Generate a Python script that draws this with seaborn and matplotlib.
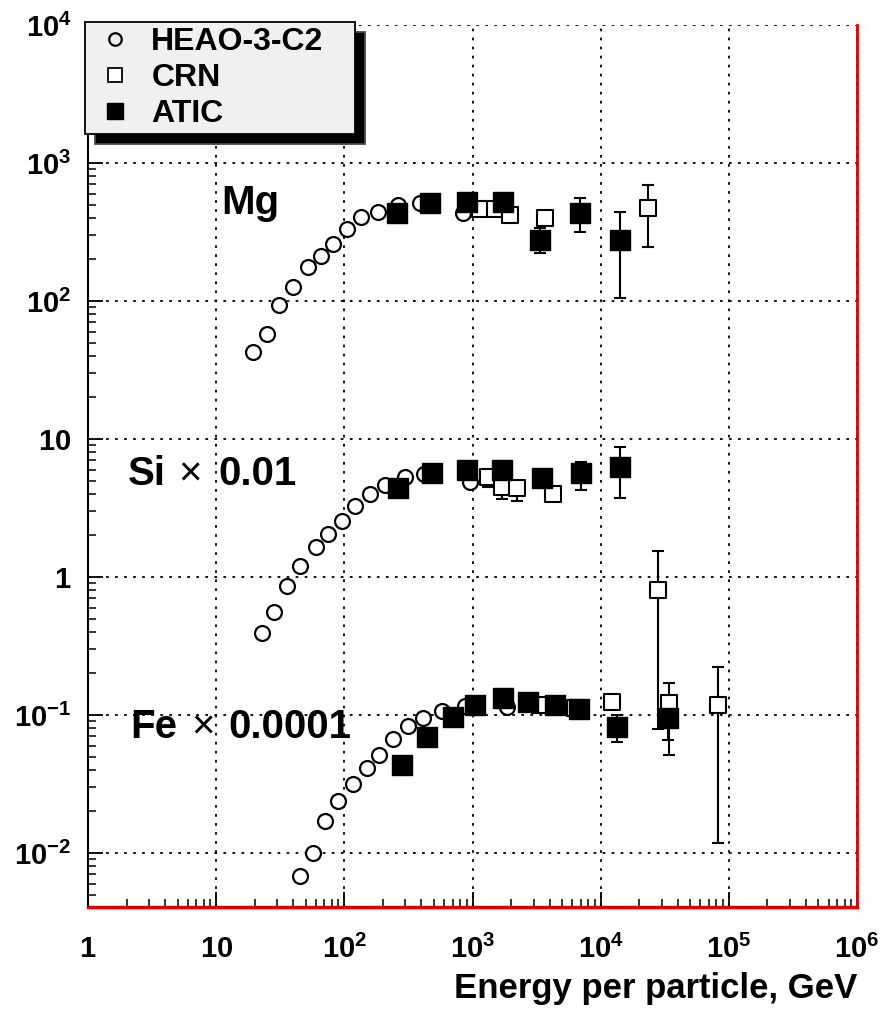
import numpy as np
import pandas as pd
import matplotlib
matplotlib.use("Agg")
import matplotlib.pyplot as plt
import seaborn as sns
from matplotlib import font_manager
from matplotlib.ticker import LogLocator, NullFormatter, FixedLocator, FixedFormatter
from matplotlib.lines import Line2D

# ---------------- data ----------------
heao_mg_E = [19.5, 24.8, 31, 39.5, 51.7, 65.7, 81.9, 104, 136, 184, 263, 389, 846]
heao_mg_F = [43, 58, 94, 127, 175, 212, 258, 333, 404, 444, 496, 510, 432]
heao_si_E = [22.6, 28.4, 35.5, 45.1, 60.0, 74.8, 95.2, 121, 158, 207, 297, 420, 955]
heao_si_F = [0.395, 0.555, 0.865, 1.20, 1.64, 2.05, 2.56, 3.29, 3.97, 4.64, 5.27, 5.6, 4.9]
heao_fe_E = [45.1, 57.2, 70.6, 89.6, 116, 149, 187, 241, 312, 413, 574, 873, 1850]
heao_fe_F = [0.00681, 0.01005, 0.01706, 0.0238, 0.0315, 0.0415, 0.0513, 0.0667,
             0.0832, 0.0946, 0.107, 0.116, 0.115]

crn_mg_E = [1142, 1496, 1958, 3672, 23480]
crn_mg_F = [462, 462, 420, 397, 470]
crn_mg_lo = [440, 440, 395, 375, 245]
crn_mg_hi = [485, 485, 445, 420, 693]
crn_si_E = [1325, 1687, 2208, 4266, 28100]
crn_si_F = [5.33, 4.51, 4.39, 3.99, 0.805]
crn_si_lo = [4.5, 3.7, 3.57, 3.8, 0.079]
crn_si_hi = [5.6, 4.7, 4.6, 4.1, 1.53]
crn_fe_E = [3357, 6300, 12160, 34000, 82600]
crn_fe_F = [0.118, 0.112, 0.125, 0.1215, 0.118]
crn_fe_lo = [0.105, 0.104, 0.112, 0.051, 0.0118]
crn_fe_hi = [0.130, 0.120, 0.140, 0.170, 0.224]

atic_mg_E = [256, 465, 899, 1738, 3357, 6886, 14120]
atic_mg_F = [436, 510, 525, 525, 277, 432, 277]
atic_mg_lo = [410, 485, 500, 500, 224, 318, 106]
atic_mg_hi = [460, 535, 550, 550, 340, 555, 439]
atic_si_E = [263, 480, 899, 1687, 3459, 7016, 14120]
atic_si_F = [4.39, 5.64, 5.96, 5.96, 5.19, 5.64, 6.3]
atic_si_lo = [4.2, 5.4, 5.7, 5.0, 4.9, 4.27, 3.72]
atic_si_hi = [4.6, 5.9, 6.2, 6.9, 5.5, 6.85, 8.7]
atic_fe_E = [280, 439, 700, 1050, 1738, 2722, 4395, 6790, 13460, 33600]
atic_fe_F = [0.0434, 0.0696, 0.0962, 0.118, 0.132, 0.125, 0.118, 0.110, 0.0823, 0.0946]
atic_fe_lo = [0.041, 0.066, 0.092, 0.113, 0.124, 0.112, 0.104, 0.102, 0.064, 0.066]
atic_fe_hi = [0.046, 0.073, 0.100, 0.123, 0.140, 0.135, 0.128, 0.118, 0.100, 0.133]

legend_labels = ["HEAO-3-C2", "CRN", "ATIC"]
x_tick_vals = [1, 10, 1e2, 1e3, 1e4, 1e5, 1e6]
x_tick_text = ["1", "10", "10^{2}", "10^{3}", "10^{4}", "10^{5}", "10^{6}"]
y_tick_vals = [1e-2, 1e-1, 1, 10, 1e2, 1e3, 1e4]
y_tick_text = ["10^{-2}", "10^{-1}", "1", "10", "10^{2}", "10^{3}", "10^{4}"]

# ---------------- style ----------------
sns.set_style("white")
names = {f.name for f in font_manager.fontManager.ttflist}
fam = "Liberation Sans" if "Liberation Sans" in names else "DejaVu Sans"
plt.rcParams["font.family"] = [fam, "DejaVu Sans"]
plt.rcParams["mathtext.fontset"] = "custom"
plt.rcParams["mathtext.rm"] = fam
plt.rcParams["mathtext.bf"] = fam + ":bold"
plt.rcParams["mathtext.it"] = fam + ":italic"
for k in ["text.color", "axes.labelcolor", "xtick.color", "ytick.color"]:
    plt.rcParams[k] = "black"

fig = plt.figure(figsize=(8.8, 10.09), dpi=100)
ax = fig.add_axes([88 / 880, 1 - 907 / 1009, (857 - 88) / 880, (907 - 25) / 1009])


def frame(E, F, exp):
    return pd.DataFrame({"E": E, "F": F, "exp": exp})


heao = pd.concat([frame(heao_mg_E, heao_mg_F, "HEAO"), frame(heao_si_E, heao_si_F, "HEAO"),
                  frame(heao_fe_E, heao_fe_F, "HEAO")])
crn_E = crn_mg_E + crn_si_E + crn_fe_E
crn_F = crn_mg_F + crn_si_F + crn_fe_F
crn_lo = crn_mg_lo + crn_si_lo + crn_fe_lo
crn_hi = crn_mg_hi + crn_si_hi + crn_fe_hi
atic_E = atic_mg_E + atic_si_E + atic_fe_E
atic_F = atic_mg_F + atic_si_F + atic_fe_F
atic_lo = atic_mg_lo + atic_si_lo + atic_fe_lo
atic_hi = atic_mg_hi + atic_si_hi + atic_fe_hi
crn = frame(crn_E, crn_F, "CRN")
atic = frame(atic_E, atic_F, "ATIC")

ax.set_xscale("log")
ax.set_yscale("log")

# error bars
for E, F, lo, hi in [(crn_E, crn_F, crn_lo, crn_hi), (atic_E, atic_F, atic_lo, atic_hi)]:
    F = np.array(F); lo = np.array(lo); hi = np.array(hi)
    ax.errorbar(E, F, yerr=[F - lo, hi - F], fmt="none", ecolor="black",
                elinewidth=1.5, capsize=4, capthick=1.5, zorder=3)

sns.scatterplot(data=heao, x="E", y="F", marker="o", s=115, color="white",
                edgecolor="black", linewidth=1.6, ax=ax, zorder=4, legend=False)
sns.scatterplot(data=crn, x="E", y="F", marker="s", s=140, color="white",
                edgecolor="black", linewidth=1.5, ax=ax, zorder=5, legend=False)
sns.scatterplot(data=atic, x="E", y="F", marker="s", s=190, color="black",
                edgecolor="black", linewidth=1.0, ax=ax, zorder=6, legend=False)

ax.set_xlim(1, 1e6)
ax.set_ylim(0.00406, 1e4)

# ticks
ax.xaxis.set_major_locator(FixedLocator(x_tick_vals))
ax.xaxis.set_major_formatter(FixedFormatter([r"$\mathbf{%s}$" % t for t in x_tick_text]))
ax.yaxis.set_major_locator(FixedLocator(y_tick_vals))
ax.yaxis.set_major_formatter(FixedFormatter([r"$\mathbf{%s}$" % t for t in y_tick_text]))
ax.xaxis.set_minor_locator(LogLocator(base=10, subs=np.arange(2, 10), numticks=100))
ax.yaxis.set_minor_locator(LogLocator(base=10, subs=np.arange(2, 10), numticks=100))
ax.xaxis.set_minor_formatter(NullFormatter())
ax.yaxis.set_minor_formatter(NullFormatter())
ax.tick_params(which="major", direction="in", length=11, width=1.3, labelsize=21,
               color="black", bottom=True, left=True, top=False, right=False)
ax.tick_params(which="minor", direction="in", length=6, width=1.1, color="black",
               bottom=True, left=True, top=False, right=False)
ax.tick_params(axis="x", which="major", pad=20)
ax.tick_params(axis="y", which="major", pad=12)

ax.grid(True, which="major", color="black", linestyle=(0, (1.5, 3.5)), linewidth=1.3)
ax.set_axisbelow(True)

ax.spines["top"].set_visible(False)
ax.spines["left"].set_color("black")
ax.spines["left"].set_linewidth(1.5)
ax.spines["bottom"].set_color("#dd0000")
ax.spines["bottom"].set_linewidth(2.5)
ax.spines["right"].set_color("#dd0000")
ax.spines["right"].set_linewidth(2.0)

ax.set_ylabel("")
ax.set_xlabel("Energy per particle, GeV", fontsize=25, fontweight="bold",
              loc="right", labelpad=6)

# element labels
tfs = 29
ax.text(11.0, 430, "Mg", fontsize=tfs, fontweight="bold", va="baseline", ha="left")
ax.text(2.06, 4.64, "Si", fontsize=tfs, fontweight="bold", va="baseline", ha="left")
ax.text(6.25, 4.64, "\u00d7", fontsize=tfs, fontweight="normal", va="baseline", ha="center")
ax.text(10.4, 4.64, "0.01", fontsize=tfs, fontweight="bold", va="baseline", ha="left")
ax.text(2.13, 0.0681, "Fe", fontsize=tfs, fontweight="bold", va="baseline", ha="left")
ax.text(7.82, 0.0681, "\u00d7", fontsize=tfs, fontweight="normal", va="baseline", ha="center")
ax.text(12.4, 0.0681, "0.0001", fontsize=tfs, fontweight="bold", va="baseline", ha="left")

# legend
handles = [
    Line2D([], [], marker="o", ls="none", markersize=9, markerfacecolor="none",
           markeredgecolor="black", markeredgewidth=1.6),
    Line2D([], [], marker="s", ls="none", markersize=10, markerfacecolor="white",
           markeredgecolor="black", markeredgewidth=1.3),
    Line2D([], [], marker="s", ls="none", markersize=12, markerfacecolor="black",
           markeredgecolor="black"),
]
leg = ax.legend(handles, legend_labels, loc="upper left",
                bbox_to_anchor=(-0.004, 0.0, 0.351, 1.003), mode="expand",
                frameon=True, fancybox=False, framealpha=1, facecolor="#f0f0f0",
                edgecolor="black", prop={"size": 23, "weight": "bold"},
                labelspacing=0.19, borderpad=0.15, handletextpad=0.37, handlelength=1.56,
                borderaxespad=0.0,
                shadow={"ox": 7, "oy": -7, "facecolor": "black", "alpha": 1.0})
leg.get_frame().set_linewidth(1.3)
leg.set_zorder(10)

fig.savefig("out.png", dpi=100, facecolor="white")
